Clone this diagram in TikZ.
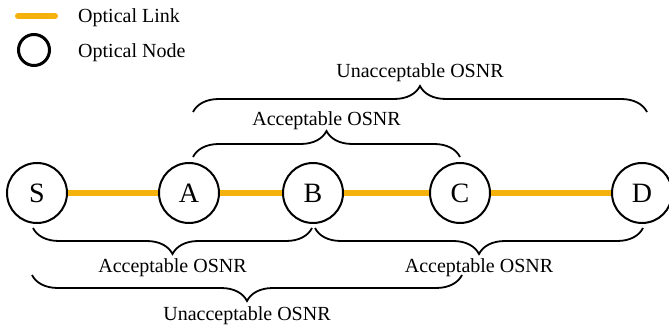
\documentclass[tikz,border=0pt]{standalone}
\usepackage{fontspec}
\setmainfont{Liberation Serif}
\usetikzlibrary{
	calc,
	decorations,
	decorations.pathreplacing}
\definecolor{linkorange}{RGB}{245,177,12}

\begin{document}
\begin{tikzpicture}[x=1pt,y=1pt,every text node part/.style={align=left}]
		\tikzstyle{vertex}=[circle,draw,line width=2pt,minimum size=60pt,
							inner sep=0pt,font=\fontsize{28}{32}\selectfont]
		\tikzstyle{link}=[draw=linkorange,line width=6pt]
		\tikzstyle{brace}=[decorate,decoration={brace,amplitude=26pt},line width=1.8pt]
		\tikzstyle{bracedown}=[brace,decoration={mirror}]
		\tikzstyle{osnr}=[font=\fontsize{20}{24}\selectfont,inner sep=0pt,anchor=base]
		
		\useasboundingbox (0,0) rectangle (669,329);
		
		% legend
		\coordinate (key1) at (18,313);
		\coordinate (key2) at (55,313);
		\draw [link,line cap=round] (key1) -- (key2);
		\node [osnr,anchor=base west] (linktext) at (78,306) {Optical Link};
		\node [circle,draw,line width=3pt,minimum size=31pt,inner sep=0pt] (keynode) at (34,279) {};
		\node [osnr,anchor=base west] (nodetext) at (78,271) {Optical Node};
		
		% nodes
		\foreach \name/\x in {S/37, A/189, B/313, C/460, D/642}
			\node[vertex] (\name) at (\x,136) {\name};
		
		% links
		\foreach \a/\b in {S/A, A/B, B/C, C/D}
			\draw [link] (\a) -- (\b);
		
		% braces above
		\coordinate (ua1) at ($(A)+(4,81)$);
		\coordinate (ua2) at ($(D)+(5,81)$);
		\draw [brace] (ua1) -- (ua2);
		\node [osnr] (unaccAD) at ($(ua1)!0.5!(ua2)+(0,34)$) {Unacceptable OSNR};
		
		\coordinate (aa1) at ($(A)+(4,36)$);
		\coordinate (aa2) at ($(C)+(0,36)$);
		\draw [brace] (aa1) -- (aa2);
		\node [osnr] (accAC) at ($(aa1)!0.5!(aa2)+(0,31)$) {Acceptable OSNR};
		
		% braces below
		\coordinate (ab1) at ($(S)+(-4,-35)$);
		\coordinate (ab2) at ($(B)+(-1,-35)$);
		\draw [bracedown] (ab1) -- (ab2);
		\node [osnr] (accSB) at ($(ab1)!0.5!(ab2)+(0,-45)$) {Acceptable OSNR};
		
		\coordinate (ac1) at ($(B)+(2,-35)$);
		\coordinate (ac2) at ($(D)+(1,-35)$);
		\draw [bracedown] (ac1) -- (ac2);
		\node [osnr] (accBD) at ($(ac1)!0.5!(ac2)+(0,-45)$) {Acceptable OSNR};
		
		\coordinate (ub1) at ($(S)+(-5,-82)$);
		\coordinate (ub2) at ($(C)+(2,-82)$);
		\draw [bracedown] (ub1) -- (ub2);
		\node [osnr] (unaccSC) at ($(ub1)!0.5!(ub2)+(0,-46)$) {Unacceptable OSNR};
		
	\end{tikzpicture}
\end{document}
